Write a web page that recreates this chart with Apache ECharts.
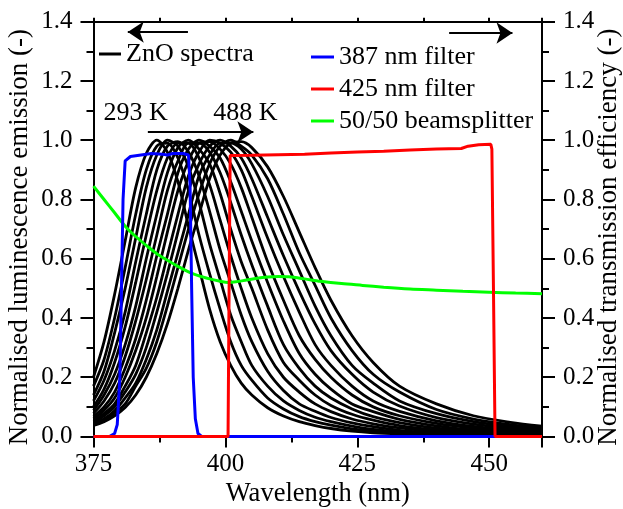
<!DOCTYPE html>
<html>
<head>
<meta charset="utf-8">
<script src="https://cdn.jsdelivr.net/npm/echarts@6/dist/echarts.min.js"></script>
<style>
  html, body { margin: 0; padding: 0; background: #fff; }
  #chart { width: 623px; height: 509px; }
</style>
</head>
<body>
<div id="chart"></div>
<script>
// wavelength grid shared by the ZnO spectra (nm)
const znoWl = [375, 377, 379, 381, 383, 385, 387, 389, 391, 393, 395, 397, 399, 401,
  403, 405, 408, 411, 414, 417, 420, 424, 428, 433, 440, 447, 454, 460]

// normalised ZnO emission, one spectrum per temperature (293 K ... 488 K)
const zno293 = [0.20, 0.32, 0.48, 0.66, 0.84, 0.955, 1.0, 0.96, 0.86, 0.71, 0.57, 0.43, 0.32, 0.24, 0.18, 0.14, 0.097, 0.069, 0.05, 0.037, 0.027, 0.018, 0.0125, 0.0085, 0.0045, 0.0027, 0.0015, 0.001]
const zno308 = [0.17, 0.26, 0.40, 0.57, 0.75, 0.90, 0.98, 0.99, 0.94, 0.83, 0.68, 0.55, 0.43, 0.32, 0.24, 0.19, 0.13, 0.093, 0.067, 0.05, 0.038, 0.026, 0.018, 0.012, 0.007, 0.004, 0.0023, 0.0015]
const zno323 = [0.14, 0.22, 0.35, 0.50, 0.67, 0.84, 0.95, 1.0, 0.98, 0.91, 0.79, 0.65, 0.53, 0.41, 0.32, 0.24, 0.17, 0.12, 0.088, 0.065, 0.05, 0.035, 0.024, 0.016, 0.009, 0.006, 0.0035, 0.002]
const zno338 = [0.12, 0.19, 0.29, 0.42, 0.59, 0.75, 0.90, 0.98, 0.995, 0.96, 0.88, 0.76, 0.63, 0.52, 0.41, 0.32, 0.22, 0.155, 0.11, 0.085, 0.064, 0.046, 0.033, 0.021, 0.0125, 0.008, 0.0045, 0.003]
const zno353 = [0.10, 0.16, 0.25, 0.37, 0.52, 0.68, 0.83, 0.94, 0.99, 0.99, 0.94, 0.85, 0.73, 0.61, 0.50, 0.40, 0.28, 0.20, 0.15, 0.11, 0.084, 0.059, 0.043, 0.029, 0.017, 0.010, 0.007, 0.004]
const zno368 = [0.088, 0.14, 0.21, 0.31, 0.44, 0.60, 0.75, 0.89, 0.975, 1.0, 0.97, 0.92, 0.82, 0.70, 0.59, 0.50, 0.36, 0.25, 0.19, 0.14, 0.105, 0.075, 0.055, 0.037, 0.022, 0.013, 0.0087, 0.006]
const zno383 = [0.078, 0.12, 0.18, 0.27, 0.39, 0.53, 0.68, 0.83, 0.93, 0.99, 0.99, 0.96, 0.89, 0.79, 0.68, 0.58, 0.44, 0.31, 0.23, 0.17, 0.13, 0.093, 0.067, 0.047, 0.028, 0.018, 0.011, 0.008]
const zno398 = [0.068, 0.10, 0.15, 0.23, 0.33, 0.46, 0.61, 0.75, 0.89, 0.97, 1.0, 0.98, 0.94, 0.86, 0.76, 0.66, 0.52, 0.39, 0.28, 0.21, 0.16, 0.11, 0.084, 0.058, 0.036, 0.022, 0.014, 0.010]
const zno413 = [0.06, 0.089, 0.13, 0.20, 0.29, 0.40, 0.54, 0.69, 0.83, 0.93, 0.99, 0.995, 0.97, 0.92, 0.84, 0.74, 0.59, 0.46, 0.34, 0.26, 0.20, 0.14, 0.10, 0.07, 0.044, 0.028, 0.018, 0.012]
const zno428 = [0.052, 0.077, 0.11, 0.17, 0.24, 0.35, 0.47, 0.61, 0.75, 0.88, 0.96, 1.0, 0.99, 0.96, 0.90, 0.81, 0.67, 0.54, 0.42, 0.31, 0.24, 0.17, 0.12, 0.085, 0.053, 0.034, 0.022, 0.015]
const zno443 = [0.049, 0.07, 0.10, 0.15, 0.21, 0.30, 0.42, 0.55, 0.69, 0.83, 0.92, 0.98, 1.0, 0.98, 0.94, 0.87, 0.74, 0.61, 0.49, 0.38, 0.29, 0.21, 0.15, 0.103, 0.064, 0.042, 0.028, 0.019]
const zno458 = [0.044, 0.06, 0.087, 0.13, 0.18, 0.26, 0.36, 0.49, 0.62, 0.75, 0.88, 0.95, 0.99, 0.99, 0.97, 0.92, 0.81, 0.68, 0.56, 0.44, 0.34, 0.24, 0.18, 0.12, 0.077, 0.05, 0.034, 0.024]
const zno473 = [0.04, 0.055, 0.08, 0.11, 0.17, 0.23, 0.32, 0.44, 0.57, 0.70, 0.82, 0.92, 0.98, 1.0, 0.98, 0.95, 0.87, 0.75, 0.62, 0.51, 0.40, 0.29, 0.21, 0.15, 0.091, 0.059, 0.04, 0.029]
const zno488 = [0.037, 0.05, 0.07, 0.098, 0.14, 0.20, 0.28, 0.38, 0.50, 0.63, 0.75, 0.87, 0.95, 0.99, 0.995, 0.975, 0.91, 0.81, 0.69, 0.57, 0.46, 0.34, 0.25, 0.17, 0.11, 0.07, 0.048, 0.035]

// filter / beamsplitter transmission
const blueWl = [375, 378, 379, 379.5, 380, 380.3, 380.6, 381, 382, 384, 386, 388, 389, 390, 392, 393, 393.3, 393.6, 393.9, 394.3, 394.8, 395.5, 460]
const blueT = [0, 0, 0.01, 0.04, 0.2, 0.5, 0.8, 0.93, 0.945, 0.95, 0.955, 0.953, 0.95, 0.955, 0.955, 0.95, 0.85, 0.5, 0.2, 0.06, 0.01, 0, 0]
const redWl = [375, 400.5, 400.7, 400.9, 405, 410, 415, 420, 425, 430, 435, 440, 444.7, 446, 448, 450.3, 450.5, 450.8, 451.1, 460]
const redT = [0, 0, 0.5, 0.948, 0.949, 0.951, 0.953, 0.957, 0.96, 0.963, 0.967, 0.97, 0.972, 0.98, 0.985, 0.986, 0.97, 0.5, 0, 0]
const bsWl = [375, 377, 379, 381, 383, 385, 387, 389, 391, 393, 395, 397, 399, 400.5, 402, 404, 406, 408, 410, 412, 415, 418, 422, 426, 430, 435, 440, 445, 450, 455, 460]
const bsT = [0.845, 0.8, 0.755, 0.71, 0.675, 0.645, 0.617, 0.595, 0.574, 0.556, 0.542, 0.532, 0.524, 0.52, 0.522, 0.528, 0.534, 0.538, 0.54, 0.539, 0.532, 0.524, 0.516, 0.51, 0.504, 0.498, 0.494, 0.49, 0.487, 0.484, 0.482]

const xTicks = [375, 400, 425, 450]
const yTicks = [0, 0.2, 0.4, 0.6, 0.8, 1.0, 1.2, 1.4]

const spectra = [zno293, zno308, zno323, zno338, zno353, zno368, zno383,
  zno398, zno413, zno428, zno443, zno458, zno473, zno488]

const FONT = 'Liberation Serif'
const txt = { color: '#000', fontFamily: FONT, fontSize: 25 }
// axis titles sit a little below the plot centre in the original
const title = { ...txt, fontSize: 27, padding: [0, 16, 0, 0] }

const zip = (xs, ys) => xs.map((x, i) => [x, ys[i]])

const chart = echarts.init(document.getElementById('chart'), null, { renderer: 'canvas' })

function xAxisCfg(pos) {
  const top = pos === 'top'
  return {
    type: 'value', position: pos, min: xTicks[0], max: 460, interval: xTicks[1] - xTicks[0],
    axisLine: { show: true, onZero: false, lineStyle: { color: '#000', width: 2 } },
    axisTick: { show: true, inside: false, length: top ? 4 : 11, lineStyle: { color: '#000', width: 2 } },
    minorTick: { show: true, splitNumber: 2, length: top ? 4 : 6, lineStyle: { color: '#000', width: 2 } },
    axisLabel: { show: !top, ...txt, margin: 15, showMaxLabel: false },
    splitLine: { show: false }, minorSplitLine: { show: false },
    name: top ? '' : 'Wavelength (nm)', nameLocation: 'middle', nameGap: 44,
    nameMoveOverlap: false,
    nameTextStyle: { ...txt, fontSize: 26.5 }
  }
}

function yAxisCfg(pos, name, gap) {
  return {
    type: 'value', position: pos, min: yTicks[0], max: yTicks[yTicks.length - 1],
    interval: yTicks[1] - yTicks[0],
    axisLine: { show: true, onZero: false, lineStyle: { color: '#000', width: 2 } },
    axisTick: { show: true, inside: false, length: 13, lineStyle: { color: '#000', width: 2 } },
    minorTick: { show: true, splitNumber: 2, length: 7, lineStyle: { color: '#000', width: 2 } },
    axisLabel: { ...txt, margin: 21, formatter: v => v.toFixed(1) },
    splitLine: { show: false }, minorSplitLine: { show: false },
    name, nameLocation: 'middle', nameGap: gap, nameMoveOverlap: false, nameTextStyle: title
  }
}

const series = spectra.map(s => ({
  name: 'ZnO spectra', type: 'line', data: zip(znoWl, s),
  xAxisIndex: 0, yAxisIndex: 0, showSymbol: false, smooth: 0.3,
  lineStyle: { color: '#000', width: 2.8 }, itemStyle: { color: '#000' },
  emphasis: { disabled: true }, z: 2
}))

series.push({
  name: '50/50 beamsplitter', type: 'line', data: zip(bsWl, bsT),
  xAxisIndex: 0, yAxisIndex: 1, showSymbol: false, smooth: 0.3,
  lineStyle: { color: '#00ff00', width: 3 }, itemStyle: { color: '#00ff00' }, z: 3
})
series.push({
  name: '387 nm filter', type: 'line', data: zip(blueWl, blueT),
  xAxisIndex: 0, yAxisIndex: 1, showSymbol: false,
  lineStyle: { color: '#0000ff', width: 3 }, itemStyle: { color: '#0000ff' }, z: 4
})
series.push({
  name: '425 nm filter', type: 'line', data: zip(redWl, redT),
  xAxisIndex: 0, yAxisIndex: 1, showSymbol: false,
  lineStyle: { color: '#ff0000', width: 3 }, itemStyle: { color: '#ff0000' }, z: 5
})

// arrows and temperature labels
series.push({
  name: 'notes', type: 'line', data: [], xAxisIndex: 0, yAxisIndex: 0, z: 6, silent: true,
  markLine: {
    silent: true, symbol: ['none', 'arrow'], symbolSize: 16,
    label: { show: false }, emphasis: { disabled: true },
    lineStyle: { color: '#000', width: 2, type: 'solid' },
    data: [
      [{ coord: [392.9, 1.365] }, { coord: [381.5, 1.365] }],
      [{ coord: [442.4, 1.362] }, { coord: [454.4, 1.362] }],
      [{ coord: [385.3, 1.028] }, { coord: [405.3, 1.028] }]
    ]
  },
  markPoint: {
    silent: true, symbol: 'rect', symbolSize: 1, itemStyle: { color: 'rgba(0,0,0,0)' },
    label: { show: true, position: 'inside', formatter: '{b}', ...txt, fontSize: 26 },
    data: [
      { name: '293 K', coord: [383.0, 1.09] },
      { name: '488 K', coord: [403.8, 1.09] }
    ]
  }
})

const legendCommon = {
  orient: 'vertical', icon: 'rect', itemWidth: 22, itemHeight: 3, itemGap: 6, padding: 0,
  textStyle: { ...txt, fontSize: 26, lineHeight: 26, padding: [0, 0, 0, 0] }, selectedMode: false
}

chart.setOption({
  animation: false,
  backgroundColor: '#fff',
  grid: { left: 93.5, right: 81, top: 21.7, bottom: 72.5, containLabel: false, outerBoundsMode: 'none' },
  legend: [
    { ...legendCommon, data: ['ZnO spectra'], left: 99, top: 41 },
    { ...legendCommon, itemWidth: 23, data: ['387 nm filter', '425 nm filter', '50/50 beamsplitter'], left: 311, top: 44 }
  ],
  xAxis: [xAxisCfg('bottom'), xAxisCfg('top')],
  yAxis: [
    yAxisCfg('left', 'Normalised luminescence emission (-)', 60),
    yAxisCfg('right', 'Normalised transmission efficiency (-)', 53)
  ],
  series
})
</script>
</body>
</html>
